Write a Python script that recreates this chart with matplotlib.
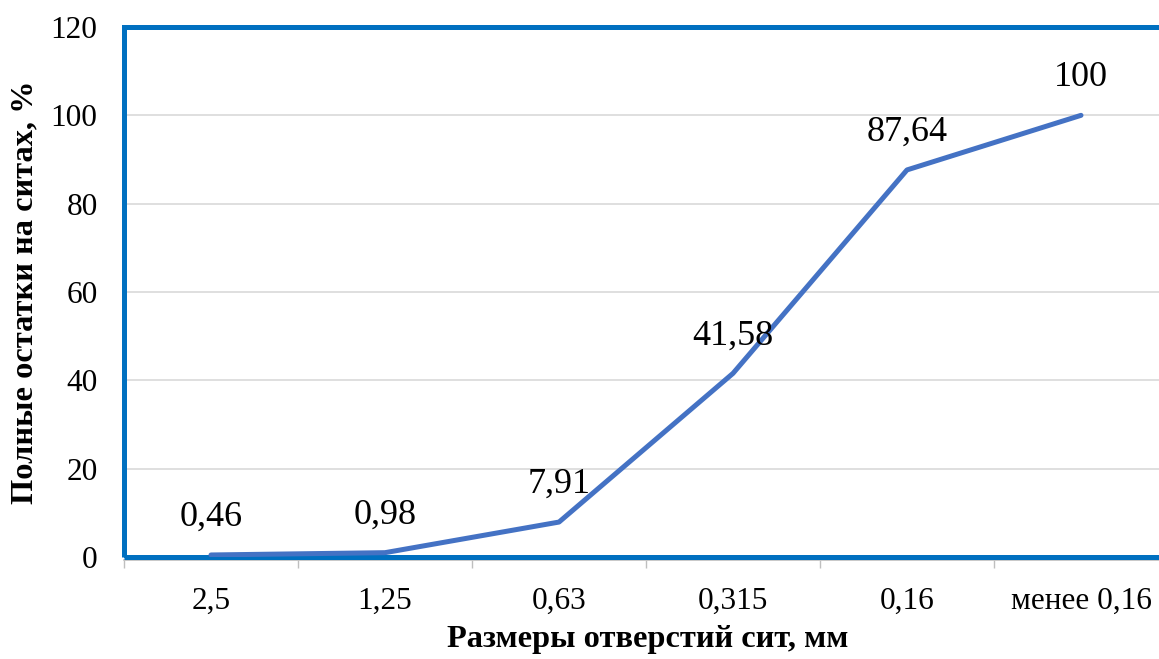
import matplotlib
matplotlib.use("Agg")
import matplotlib.pyplot as plt
from matplotlib.patches import Rectangle

# Sieve analysis: cumulative residue on sieves
sieve_sizes = ["2,5", "1,25", "0,63", "0,315", "0,16", "менее 0,16"]
residues = [0.46, 0.98, 7.91, 41.58, 87.64, 100]
y_ticks = [0, 20, 40, 60, 80, 100, 120]

plt.rcParams["font.family"] = ["Liberation Serif", "DejaVu Serif"]

W, H = 1159, 659
fig = plt.figure(figsize=(W / 100, H / 100), dpi=100)
ax = fig.add_axes([124 / W, 102 / H, (1168 - 124) / W, 530 / H])

x = list(range(len(sieve_sizes)))
ax.plot(x, residues, color="#4472C4", lw=3.6, solid_capstyle="round", zorder=4)

for xi, v in zip(x, residues):
    lbl = f"{v:g}".replace(".", ",")
    ax.annotate(lbl, (xi, v), xytext=(0, 27), textcoords="offset points",
                ha="center", va="center", fontsize=26, color="black", zorder=5)

ax.set_xlim(-0.5, len(sieve_sizes) - 0.5)
ax.set_ylim(0, 120)
ax.set_yticks(y_ticks)
ax.set_yticklabels([str(t) for t in y_ticks])
ax.set_xticks(x)
ax.set_xticklabels(sieve_sizes)
ax.set_xticks([i - 0.5 for i in range(len(sieve_sizes) + 1)], minor=True)

ax.tick_params(axis="y", length=0, pad=19, labelsize=22.5)
ax.tick_params(axis="x", which="major", length=0, pad=19, labelsize=22.5)
ax.tick_params(axis="x", which="minor", length=6, width=1, color="#BFBFBF", direction="out")

ax.grid(axis="y", color="#D9D9D9", lw=1.2, zorder=0)
ax.set_axisbelow(True)

for side in ("left", "top", "right"):
    ax.spines[side].set_visible(False)
ax.spines["bottom"].set_color("#BFBFBF")
ax.spines["bottom"].set_linewidth(1.2)
ax.spines["bottom"].set_position(("outward", 2.4))

# plot-area border
ax.add_patch(Rectangle((0, 0), 1, 1, transform=ax.transAxes, fill=False,
                       edgecolor="#0070C0", lw=3.6, clip_on=False, zorder=3))

fig.text(0.5 * (447 + 848) / W, 1 - 640 / H, "Размеры отверстий сит, мм",
         ha="center", va="center", fontsize=23.3, fontweight="bold")
fig.text(25 / W, 1 - 292 / H, "Полные остатки на ситах, %", rotation=90,
         ha="center", va="center", fontsize=23.3, fontweight="bold")

fig.savefig("out.png", dpi=100)
